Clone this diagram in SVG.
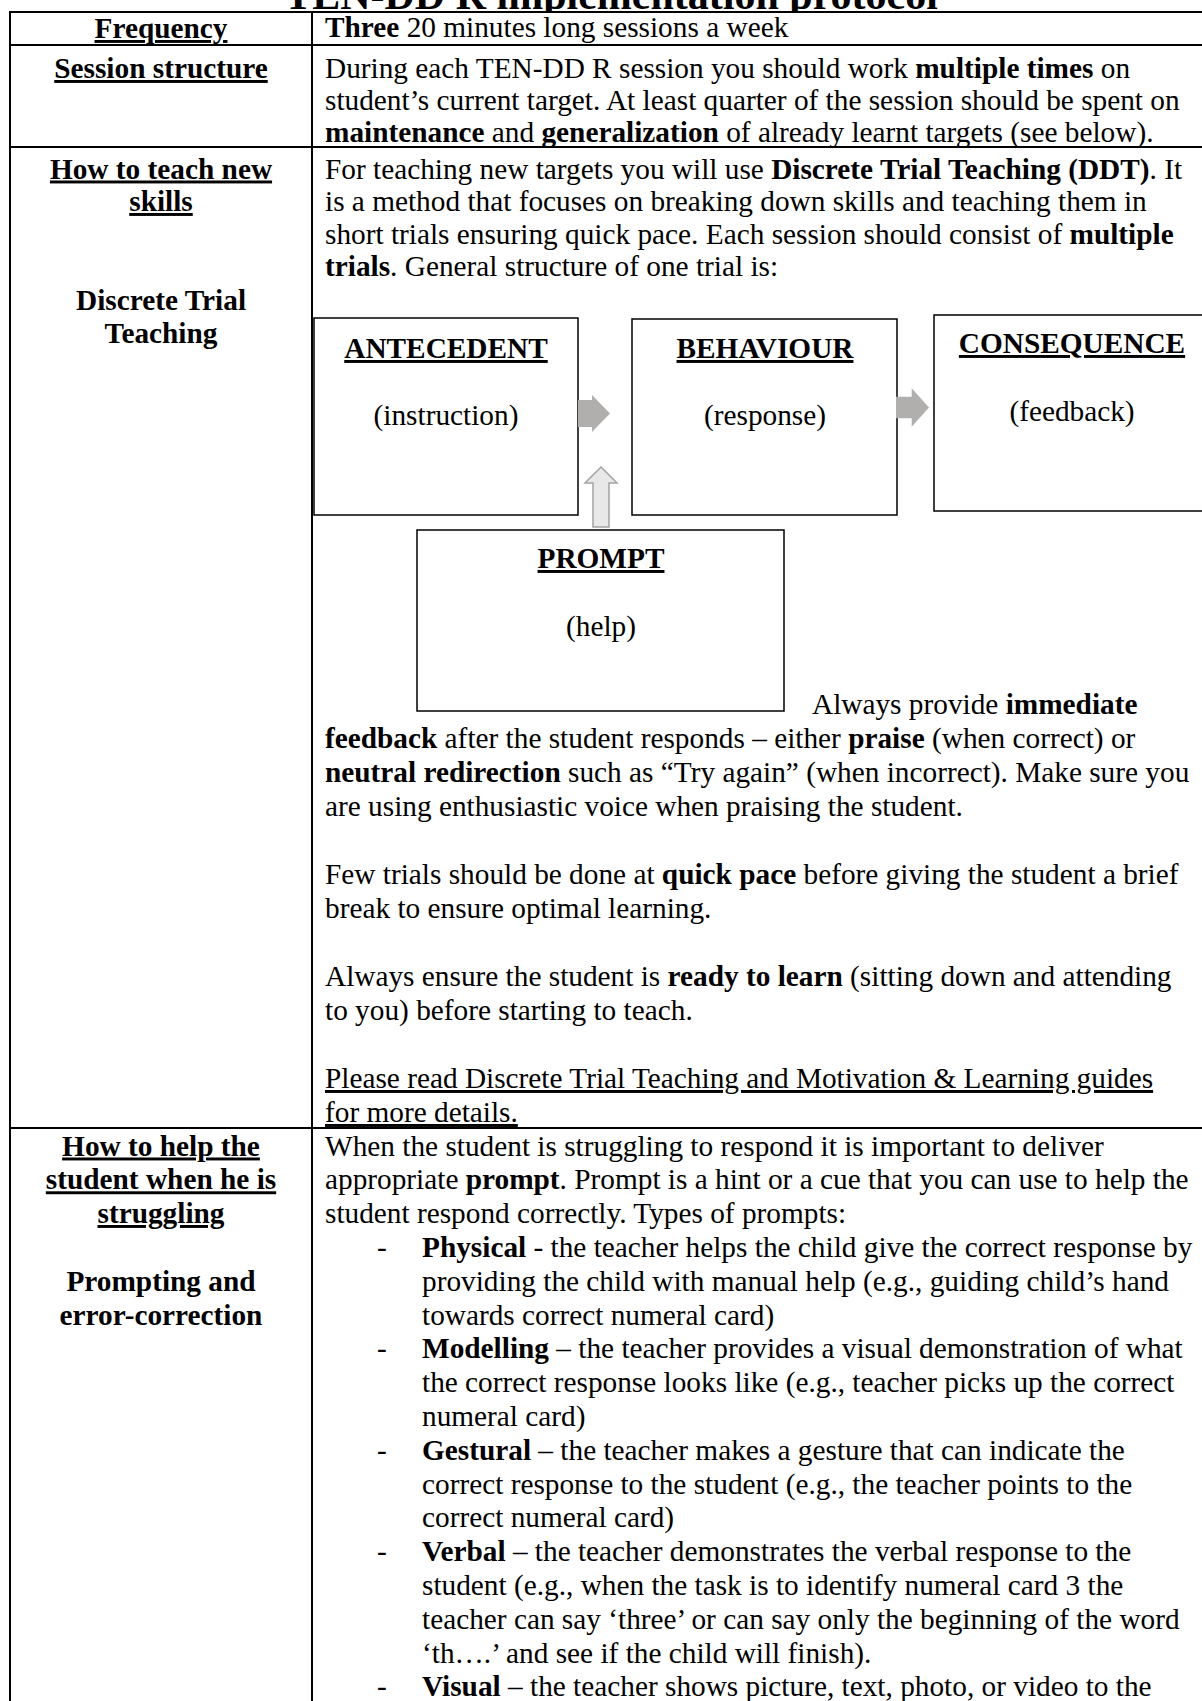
<svg xmlns="http://www.w3.org/2000/svg" width="1202" height="1701" viewBox="0 0 1202 1701">
<style>
.t{font-family:"Liberation Serif","Times New Roman",serif;font-size:29.3px;fill:#000}
.b{font-weight:bold}
.u{text-decoration:underline}
.c{text-anchor:middle}
.ln{stroke:#000;stroke-width:2;fill:none}
.box{fill:#fff;stroke:#000;stroke-width:1.5}
.ga{fill:#b1aeae;stroke:none}
.ua{fill:#e8e8e8;stroke:#a3a3a3;stroke-width:1.5}
</style>
<rect x="0" y="0" width="1202" height="1701" fill="#fff"/>
<text class="t b c" x="611" y="8.5" style="font-size:42px">TEN-DD R implementation protocol</text>
<rect x="10" y="12" width="1200" height="1700" fill="#fff"/>

<g id="table">
<line class="ln" x1="9" y1="12" x2="1210" y2="12"/>
<line class="ln" x1="9" y1="45" x2="1210" y2="45"/>
<line class="ln" x1="9" y1="147" x2="1210" y2="147"/>
<line class="ln" x1="9" y1="1128" x2="1210" y2="1128"/>
<line class="ln" x1="10" y1="11" x2="10" y2="1710"/>
<line class="ln" x1="312" y1="11" x2="312" y2="1710"/>
</g>

<g id="left-column">
<text class="t b u c" x="161" y="38">Frequency</text>
<text class="t b u c" x="161" y="78">Session structure</text>
<text class="t b u c" x="161" y="178.5">How to teach new</text>
<text class="t b u c" x="161" y="211">skills</text>
<text class="t b c" x="161" y="310">Discrete Trial</text>
<text class="t b c" x="161" y="342.5">Teaching</text>
<text class="t b u c" x="161" y="1155.5">How to help the</text>
<text class="t b u c" x="161" y="1189.3">student when he is</text>
<text class="t b u c" x="161" y="1223">struggling</text>
<text class="t b c" x="161" y="1291">Prompting and</text>
<text class="t b c" x="161" y="1324.5">error-correction</text>
</g>

<g id="right-column">
<text class="t" x="325" y="37"><tspan class="b">Three</tspan> 20 minutes long sessions a week</text>
<text class="t" x="325" y="78">During each TEN-DD R session you should work <tspan class="b">multiple times</tspan> on</text>
<text class="t" x="325" y="110">student’s current target. At least quarter of the session should be spent on</text>
<text class="t" x="325" y="142"><tspan class="b">maintenance</tspan> and <tspan class="b">generalization</tspan> of already learnt targets (see below).</text>
<text class="t" x="325" y="178.5">For teaching new targets you will use <tspan class="b">Discrete Trial Teaching (DDT)</tspan>. It</text>
<text class="t" x="325" y="211">is a method that focuses on breaking down skills and teaching them in</text>
<text class="t" x="325" y="243.5">short trials ensuring quick pace. Each session should consist of <tspan class="b">multiple</tspan></text>
<text class="t" x="325" y="276"><tspan class="b">trials</tspan>. General structure of one trial is:</text>

<text class="t" x="812" y="714">Always provide <tspan class="b">immediate</tspan></text>
<text class="t" x="325" y="748"><tspan class="b">feedback</tspan> after the student responds – either <tspan class="b">praise</tspan> (when correct) or</text>
<text class="t" x="325" y="782"><tspan class="b">neutral redirection</tspan> such as “Try again” (when incorrect). Make sure you</text>
<text class="t" x="325" y="816">are using enthusiastic voice when praising the student.</text>
<text class="t" x="325" y="884">Few trials should be done at <tspan class="b">quick pace</tspan> before giving the student a brief</text>
<text class="t" x="325" y="918">break to ensure optimal learning.</text>
<text class="t" x="325" y="986">Always ensure the student is <tspan class="b">ready to learn</tspan> (sitting down and attending</text>
<text class="t" x="325" y="1020">to you) before starting to teach.</text>
<text class="t u" x="325" y="1088">Please read Discrete Trial Teaching and Motivation &amp; Learning guides</text>
<text class="t u" x="325" y="1122">for more details.</text>

<text class="t" x="325" y="1155.5">When the student is struggling to respond it is important to deliver</text>
<text class="t" x="325" y="1189.3">appropriate <tspan class="b">prompt</tspan>. Prompt is a hint or a cue that you can use to help the</text>
<text class="t" x="325" y="1223">student respond correctly. Types of prompts:</text>
<text class="t" x="377" y="1257">-</text>
<text class="t" x="422" y="1257"><tspan class="b">Physical</tspan> - the teacher helps the child give the correct response by</text>
<text class="t" x="422" y="1291">providing the child with manual help (e.g., guiding child’s hand</text>
<text class="t" x="422" y="1324.5">towards correct numeral card)</text>
<text class="t" x="377" y="1358">-</text>
<text class="t" x="422" y="1358"><tspan class="b">Modelling</tspan> – the teacher provides a visual demonstration of what</text>
<text class="t" x="422" y="1392">the correct response looks like (e.g., teacher picks up the correct</text>
<text class="t" x="422" y="1426">numeral card)</text>
<text class="t" x="377" y="1460">-</text>
<text class="t" x="422" y="1460"><tspan class="b">Gestural</tspan> – the teacher makes a gesture that can indicate the</text>
<text class="t" x="422" y="1493.5">correct response to the student (e.g., the teacher points to the</text>
<text class="t" x="422" y="1527">correct numeral card)</text>
<text class="t" x="377" y="1561">-</text>
<text class="t" x="422" y="1561"><tspan class="b">Verbal</tspan> – the teacher demonstrates the verbal response to the</text>
<text class="t" x="422" y="1595">student (e.g., when the task is to identify numeral card 3 the</text>
<text class="t" x="422" y="1629">teacher can say ‘three’ or can say only the beginning of the word</text>
<text class="t" x="422" y="1662.5">‘th….’ and see if the child will finish).</text>
<text class="t" x="377" y="1696">-</text>
<text class="t" x="422" y="1696"><tspan class="b">Visual</tspan> – the teacher shows picture, text, photo, or video to the</text>
</g>

<g id="antecedent">
<rect class="box" x="314" y="318" width="264" height="197"/>
<text class="t b u c" x="446" y="358">ANTECEDENT</text>
<text class="t c" x="446" y="425">(instruction)</text>
</g>
<g id="behaviour">
<rect class="box" x="632" y="319" width="265" height="196"/>
<text class="t b u c" x="765" y="358">BEHAVIOUR</text>
<text class="t c" x="765" y="425">(response)</text>
</g>
<g id="consequence">
<rect class="box" x="934" y="315" width="276" height="196"/>
<text class="t b u c" x="1072" y="353">CONSEQUENCE</text>
<text class="t c" x="1072" y="421">(feedback)</text>
</g>
<g id="prompt">
<rect class="box" x="417" y="530" width="367" height="181"/>
<text class="t b u c" x="601" y="568">PROMPT</text>
<text class="t c" x="601" y="636">(help)</text>
</g>

<g id="connectors">
<polygon class="ga" points="578,400 592,400 592,395 610,413.5 592,432 592,427 578,427"/>
<polygon class="ga" points="896,396.7 911.7,396.7 911.7,388.3 929,407.5 911.7,426.7 911.7,418.3 896,418.3"/>
<polygon class="ua" points="601,467 617,483 609,483 609,527 593,527 593,483 585,483"/>
</g>
</svg>
